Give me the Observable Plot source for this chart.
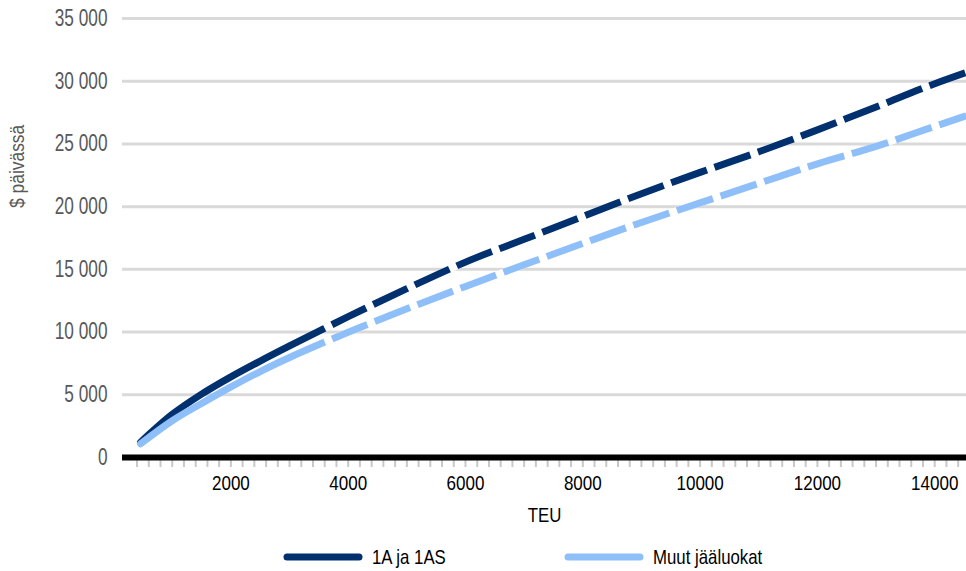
<!DOCTYPE html>
<html>
<head>
<meta charset="utf-8">
<script src="https://cdn.jsdelivr.net/npm/d3@7"></script>
<script src="https://cdn.jsdelivr.net/npm/@observablehq/plot@0.6"></script>
<style>
  body { margin: 0; background: #fff; }
  #wrap { width: 966px; font-family: "Liberation Sans", Arial, sans-serif; }
  #legend { display: flex; align-items: center; height: 31px; padding-top: 2px; box-sizing: border-box; font-size: 21px; color: #000; }
  .item { display: flex; align-items: center; }
  .item span { margin-left: 9px; display: inline-block; transform: scaleX(0.8); transform-origin: left center; white-space: nowrap; }
</style>
</head>
<body>
<div id="wrap">
  <div id="chart"></div>
  <div id="legend"></div>
</div>
<script>
// ---- data ----
const teu = [460, 1000, 1500, 2000, 2500, 3000, 3600, 4000, 5000, 6000, 7000, 8000, 9000, 10000, 11000, 12000, 13000, 14000, 14540];
const series1Name = "1A ja 1AS";
const series1 = [1220, 3440, 5050, 6430, 7690, 8895, 10300, 11225, 13460, 15575, 17395, 19210, 21030, 22730, 24370, 26120, 27950, 29800, 30700];
const series2Name = "Muut jääluokat";
const series2 = [1090, 2930, 4306, 5625, 6856, 7973, 9205, 9977, 11850, 13640, 15370, 17070, 18740, 20300, 21855, 23410, 24800, 26400, 27250];
const solidUntil = 3600; // solid line up to this TEU, dashed afterwards
const yTicks = [0, 5000, 10000, 15000, 20000, 25000, 30000, 35000];
const xTickLabels = [2000, 4000, 6000, 8000, 10000, 12000, 14000];
const xMinorTicks = d3.range(400, 14600, 200);
const xTitle = "TEU";
const yTitle = "$ päivässä";

const colDark = "#00306e";
const colLight = "#8fbff9";
const font = '"Liberation Sans", Arial, sans-serif';

const rows1 = teu.map((t, i) => ({teu: t, v: series1[i]}));
const rows2 = teu.map((t, i) => ({teu: t, v: series2[i]}));
const solid = rows => rows.filter(d => d.teu <= solidUntil);
const dashed = rows => rows.filter(d => d.teu >= solidUntil);

const fmt = d => d3.format(",")(d).replace(/,/g, " ");
const lineOpts = {x: "teu", y: "v", strokeWidth: 7, curve: "monotone-x"};
const dashOpts = {strokeLinecap: "butt", strokeDasharray: "38,8", strokeDashoffset: 38};

const chart = Plot.plot({
  width: 966,
  height: 540,
  marginTop: 18,
  marginBottom: 83,
  marginLeft: 122,
  marginRight: 0,
  style: {fontFamily: font, background: "#fff"},
  x: {domain: [152, 14542]},
  y: {domain: [0, 35000]},
  marks: [
    Plot.gridY(yTicks.filter(d => d > 0), {stroke: "#d9d9d9", strokeOpacity: 1, strokeWidth: 3}),
    Plot.axisY({ticks: yTicks, tickSize: 0, tickPadding: 15, tickFormat: fmt, fill: "#595959", fontSize: 23, label: null, className: "sq75"}),
    Plot.axisX({ticks: xMinorTicks, tickSize: 10, stroke: "#c8c8c8", strokeWidth: 2, tickFormat: () => "", label: null}),
    Plot.axisX({ticks: xTickLabels, tickSize: 0, tickPadding: 18, tickFormat: d => String(d), fill: "#000", fontSize: 20.5, label: null, className: "sq83"}),
    Plot.ruleY([0], {stroke: "#000", strokeWidth: 6}),
    Plot.text([xTitle], {frameAnchor: "bottom", dy: 64, fontSize: 21, fill: "#000", className: "sq80"}),
    Plot.text([yTitle], {frameAnchor: "left", rotate: -90, dx: -105, dy: -30, fontSize: 21, fill: "#595959", className: "sq83"}),
    Plot.line(solid(rows1), {...lineOpts, stroke: colDark, strokeLinecap: "round"}),
    Plot.line(dashed(rows1), {...lineOpts, stroke: "#fff", strokeLinecap: "butt"}),
    Plot.line(dashed(rows1), {...lineOpts, stroke: colDark, ...dashOpts}),
    Plot.line(solid(rows2), {...lineOpts, stroke: colLight, strokeLinecap: "round"}),
    Plot.line(dashed(rows2), {...lineOpts, stroke: "#fff", strokeLinecap: "butt"}),
    Plot.line(dashed(rows2), {...lineOpts, stroke: colLight, ...dashOpts})
  ]
});

// squeeze texts horizontally about their own anchor point (imitates the condensed face)
const squeeze = {sq75: 0.75, sq80: 0.8, sq83: 0.83};
Object.entries(squeeze).forEach(([cls, s]) => {
  chart.querySelectorAll(`[class*="${cls}"] text, text[class*="${cls}"]`).forEach(t => {
    const tr = t.getAttribute("transform");
    if (tr) {
      t.setAttribute("transform", tr + ` scale(${s},1)`);
    } else {
      const x = +t.getAttribute("x") || 0, y = +t.getAttribute("y") || 0;
      t.setAttribute("transform", `translate(${x},${y}) scale(${s},1) translate(${-x},${-y})`);
    }
  });
});
document.getElementById("chart").appendChild(chart);

// legend
const legend = document.getElementById("legend");
const items = [{name: series1Name, color: colDark, ml: 283}, {name: series2Name, color: colLight, ml: 100}];
items.forEach(it => {
  const div = document.createElement("div");
  div.className = "item";
  div.style.marginLeft = it.ml + "px";
  div.innerHTML = `<svg width="80" height="12"><line x1="4" y1="6" x2="76" y2="6" stroke="${it.color}" stroke-width="7" stroke-linecap="round"/></svg><span>${it.name}</span>`;
  legend.appendChild(div);
});
</script>
</body>
</html>
